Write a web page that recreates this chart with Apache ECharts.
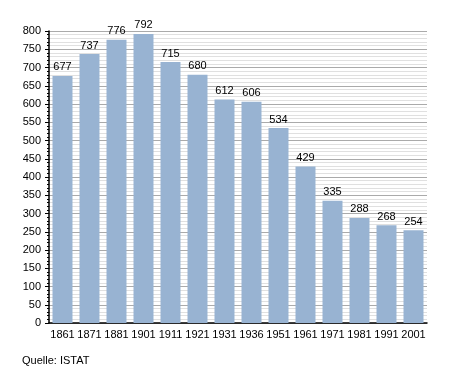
<!DOCTYPE html>
<html><head><meta charset="utf-8">
<script src="https://cdn.jsdelivr.net/npm/echarts@6/dist/echarts.min.js"></script>
<style>html,body{margin:0;padding:0;background:#fff}#c{width:455px;height:373px}</style>
</head><body><div id="c"></div>
<script>
const years = ['1861','1871','1881','1901','1911','1921','1931','1936','1951','1961','1971','1981','1991','2001'];
const population = [677,737,776,792,715,680,612,606,534,429,335,288,268,254];
const source = 'Quelle: ISTAT';

const chart = echarts.init(document.getElementById('c'), null, {renderer:'canvas'});
const font = 'Liberation Sans, Arial, sans-serif';
chart.setOption({
  animation:false,
  textStyle:{fontFamily:font},
  graphic:[{type:'text', left:22, top:355, style:{text:source, fontFamily:font, fontSize:11, fill:'#000'}}],
  grid:{left:49, right:28, top:31, bottom:50, containLabel:false},
  xAxis:{type:'category', data:years,
    axisLine:{lineStyle:{color:'#000', width:1.5}},
    axisTick:{show:false},
    axisLabel:{color:'#000', fontSize:11, fontFamily:font, margin:6, interval:0, hideOverlap:false}},
  yAxis:{type:'value', min:0, max:800, interval:50,
    axisLine:{show:true, lineStyle:{color:'#000', width:1.5}},
    axisTick:{show:true, length:4, lineStyle:{color:'#000'}},
    minorTick:{show:true, splitNumber:5, length:2, lineStyle:{color:'#000'}},
    splitLine:{lineStyle:{color:'#aaa', width:1}},
    minorSplitLine:{show:true, lineStyle:{color:'#e0e0e0', width:1}},
    axisLabel:{color:'#000', fontSize:11, fontFamily:font, margin:8}},
  series:[{type:'bar', data:population, barCategoryGap:'26%',
    itemStyle:{color:'#98b3d2'},
    label:{show:true, position:'top', color:'#000', fontSize:11, fontFamily:font, distance:3}}]
});
</script></body></html>
